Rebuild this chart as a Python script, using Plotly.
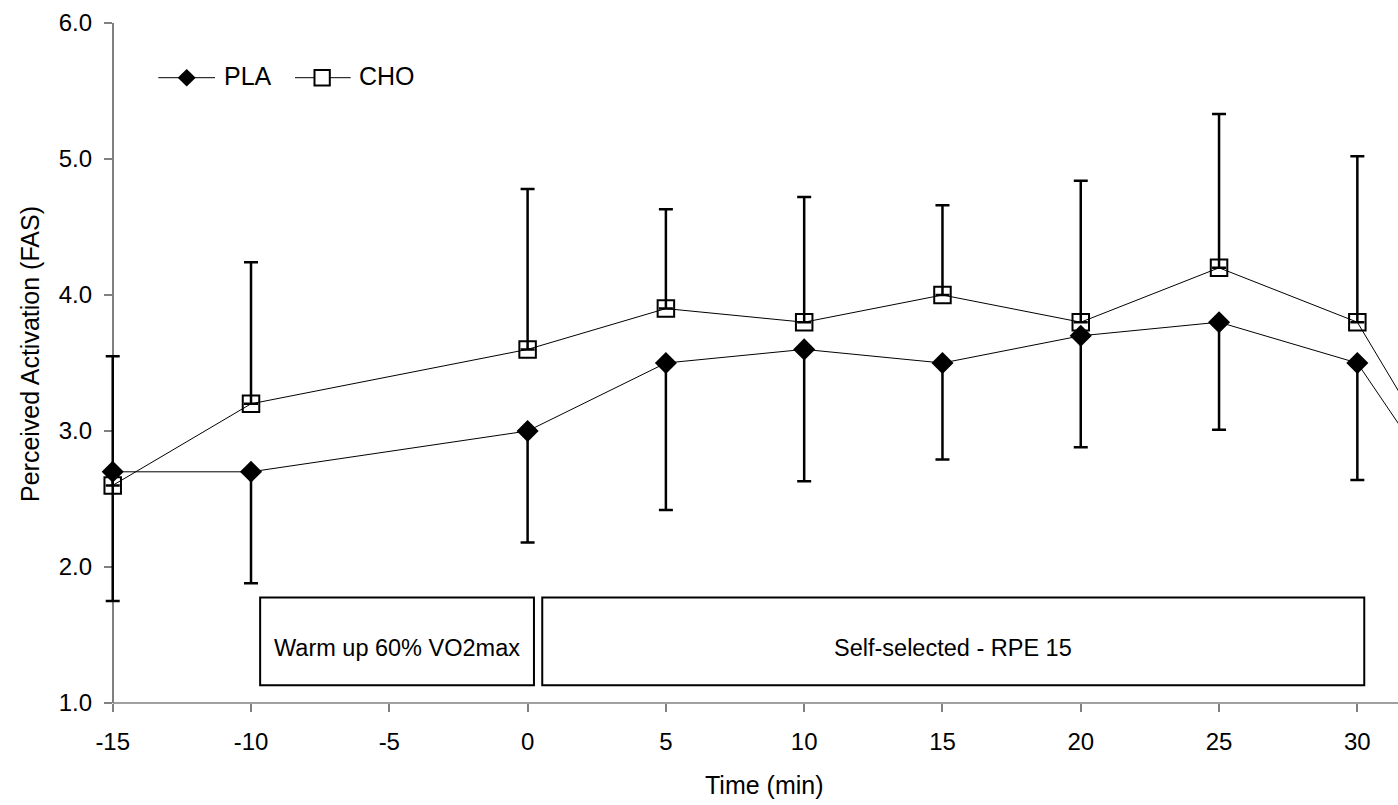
import plotly.graph_objects as go

# ---- data ----
time_min = [-15, -10, 0, 5, 10, 15, 20, 25, 30, 35]
pla_mean = [2.7, 2.7, 3.0, 3.5, 3.6, 3.5, 3.7, 3.8, 3.5, 2.0]
pla_sd_down = [0.95, 0.82, 0.82, 1.08, 0.97, 0.71, 0.82, 0.79, 0.86, 0.0]
cho_mean = [2.6, 3.2, 3.6, 3.9, 3.8, 4.0, 3.8, 4.2, 3.8, 2.1]
cho_sd_up = [0.95, 1.04, 1.18, 0.73, 0.92, 0.66, 1.04, 1.13, 1.22, 0.0]
zeros = [0.0] * len(time_min)

x_ticks = [-15, -10, -5, 0, 5, 10, 15, 20, 25, 30]
x_tick_labels = ["-15", "-10", "-5", "0", "5", "10", "15", "20", "25", "30"]
y_ticks = [1.0, 2.0, 3.0, 4.0, 5.0, 6.0]
y_tick_labels = ["1.0", "2.0", "3.0", "4.0", "5.0", "6.0"]

phase_labels = ["Warm up 60% VO2max", "Self-selected - RPE 15"]
phase_x0 = [-9.67, 0.53]
phase_x1 = [0.23, 30.25]

FONT = "Liberation Sans, Arial, sans-serif"
W, H = 1398, 805
ML, MB, MT = 100, 102, 23          # page margins (px)
PW, PH = W - ML, H - MB - MT       # plot area size
X_LEFT, X_RIGHT = -15.46, 31.47    # x range (axis drawn from -15)


def px(xp):
    return (xp - ML) / PW


def py(yp):
    return (H - MB - yp) / PH


fig = go.Figure()

fig.add_trace(go.Scatter(
    x=time_min, y=cho_mean, name="CHO", mode="lines+markers",
    line=dict(color="black", width=1),
    marker=dict(symbol="square-open", size=16.5, color="black",
                line=dict(color="black", width=2)),
    error_y=dict(type="data", symmetric=False, array=cho_sd_up,
                 arrayminus=zeros, color="black", thickness=2.5, width=7),
    cliponaxis=False, showlegend=False,
))
fig.add_trace(go.Scatter(
    x=time_min, y=pla_mean, name="PLA", mode="lines+markers",
    line=dict(color="black", width=1),
    marker=dict(symbol="diamond", size=17, color="black",
                line=dict(color="black", width=0)),
    error_y=dict(type="data", symmetric=False, array=zeros,
                 arrayminus=pla_sd_down, color="black", thickness=2.5, width=7),
    cliponaxis=False, showlegend=False,
))

shapes = []
annotations = []

# x axis line starting at the y axis (x = -15)
shapes.append(dict(type="line", xref="x", yref="paper", x0=-15, x1=X_RIGHT,
                   y0=0, y1=0, line=dict(color="#808080", width=1.5),
                   layer="below"))

# phase boxes
for lab, a, b in zip(phase_labels, phase_x0, phase_x1):
    shapes.append(dict(type="rect", xref="x", yref="y", x0=a, x1=b,
                       y0=1.13, y1=1.775,
                       line=dict(color="black", width=2),
                       fillcolor="white", layer="above"))
    annotations.append(dict(xref="x", yref="y", x=(a + b) / 2, y=1.405,
                            text=lab, showarrow=False,
                            xanchor="center", yanchor="middle",
                            font=dict(family=FONT, size=23.5, color="black")))

# legend (drawn by hand to match the original key)
LEG_Y = 77.7
shapes.append(dict(type="line", xref="paper", yref="paper",
                   x0=px(158.3), x1=px(215), y0=py(LEG_Y), y1=py(LEG_Y),
                   line=dict(color="black", width=1)))
dx, dy = 9.0, 8.7
shapes.append(dict(type="path", xref="paper", yref="paper",
                   path=(f"M{px(186.7 - dx)},{py(LEG_Y)} L{px(186.7)},{py(LEG_Y - dy)} "
                         f"L{px(186.7 + dx)},{py(LEG_Y)} L{px(186.7)},{py(LEG_Y + dy)} Z"),
                   fillcolor="black", line=dict(color="black", width=0)))
shapes.append(dict(type="line", xref="paper", yref="paper",
                   x0=px(295), x1=px(350.7), y0=py(LEG_Y), y1=py(LEG_Y),
                   line=dict(color="black", width=1)))
shapes.append(dict(type="rect", xref="paper", yref="paper",
                   x0=px(314.5), x1=px(329.8), y0=py(LEG_Y - 7.7), y1=py(LEG_Y + 7.7),
                   fillcolor="white", line=dict(color="black", width=2)))
for lab, xl in zip(["PLA", "CHO"], [221.7, 357.3]):
    annotations.append(dict(xref="paper", yref="paper", x=px(xl), y=py(LEG_Y - 1.5),
                            text=lab, showarrow=False, xanchor="left",
                            yanchor="middle",
                            font=dict(family=FONT, size=25, color="black")))

# axis titles
annotations.append(dict(xref="paper", yref="paper", x=px(764), y=py(785),
                        text="Time (min)", showarrow=False,
                        xanchor="center", yanchor="middle",
                        font=dict(family=FONT, size=25, color="black")))
annotations.append(dict(xref="paper", yref="paper", x=px(30), y=py(354),
                        text="Perceived Activation (FAS)", showarrow=False,
                        textangle=-90, xanchor="center", yanchor="middle",
                        font=dict(family=FONT, size=25, color="black")))

fig.update_layout(
    width=W, height=H,
    margin=dict(l=ML, r=0, t=MT, b=MB),
    paper_bgcolor="white", plot_bgcolor="white",
    font=dict(family=FONT, size=24, color="black"),
    shapes=shapes, annotations=annotations,
    showlegend=False,
)
fig.update_xaxes(
    range=[X_LEFT, X_RIGHT], tickmode="array", tickvals=x_ticks,
    ticktext=x_tick_labels, layer="below traces",
    ticks="outside", ticklen=8, tickwidth=1.5, tickcolor="#808080",
    ticklabelstandoff=9,
    showline=False, showgrid=False, zeroline=False,
    tickfont=dict(family=FONT, size=24, color="black"),
)
fig.update_yaxes(
    range=[1, 6], tickmode="array", tickvals=y_ticks, ticktext=y_tick_labels,
    anchor="free", position=px(112.7), layer="below traces",
    ticks="outside", ticklen=8, tickwidth=1.5, tickcolor="#808080",
    ticklabelstandoff=7,
    showline=True, linecolor="#808080", linewidth=1.5,
    showgrid=False, zeroline=False,
    tickfont=dict(family=FONT, size=24, color="black"),
)

fig.write_html("out.html")
